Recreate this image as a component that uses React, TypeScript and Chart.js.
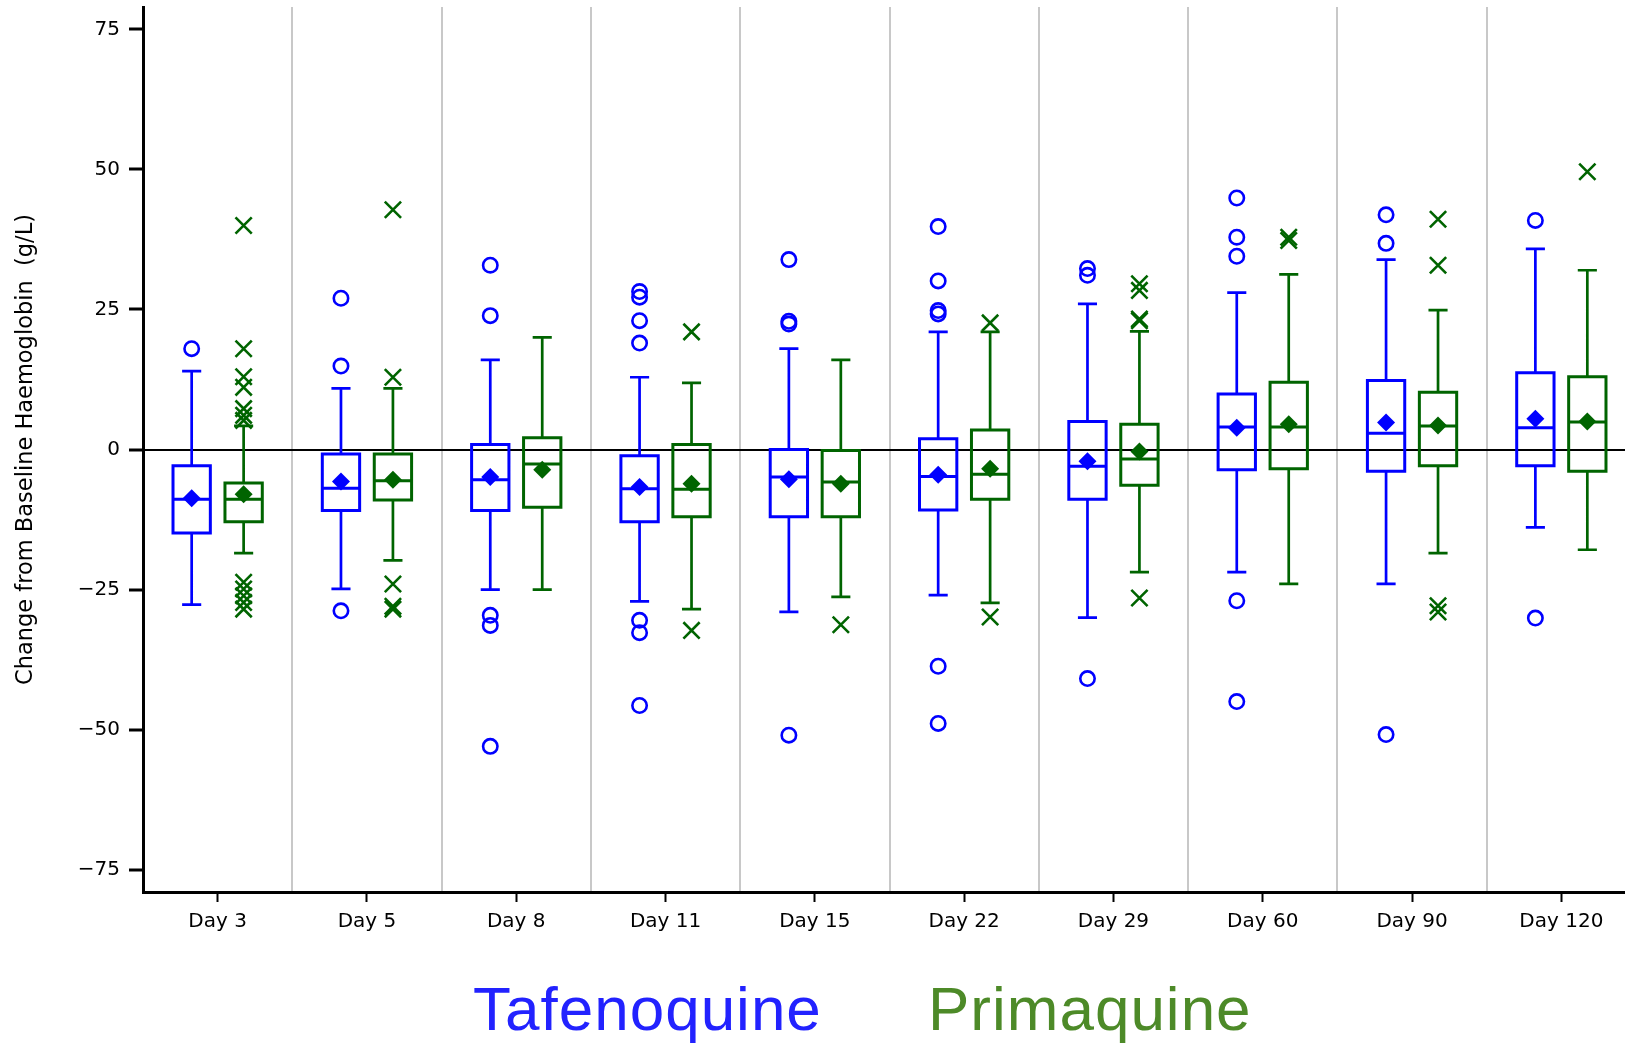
import React, { useEffect, useRef } from "react";
import { Chart, registerables } from "chart.js";

Chart.register(...registerables);

// ---------- data ----------
const days = ["Day 3", "Day 5", "Day 8", "Day 11", "Day 15", "Day 22", "Day 29", "Day 60", "Day 90", "Day 120"];

const tafLow = [-27.7, -24.9, -25, -27.1, -29, -26, -30, -21.9, -24, -13.9];
const tafQ1 = [-14.9, -10.9, -10.9, -12.9, -12, -10.8, -8.9, -3.6, -3.9, -2.9];
const tafMedian = [-8.9, -6.9, -5.4, -7.0, -4.9, -4.8, -3.0, 4.0, 2.9, 3.9];
const tafQ3 = [-2.9, -0.8, 0.9, -1.1, 0, 1.9, 5.0, 9.9, 12.3, 13.7];
const tafHigh = [14, 10.9, 16, 12.9, 18, 21, 26, 28, 33.9, 35.8];
const tafMean = [-8.7, -5.7, -4.9, -6.7, -5.3, -4.5, -2.1, 3.9, 4.8, 5.5];
const tafOutliers = [
  [18],
  [27, 14.9, -28.8],
  [32.9, 23.9, -29.6, -31.4, -53],
  [28.2, 27.2, 23, 19, -30.5, -32.7, -45.7],
  [33.9, 22.9, 22.4, -51],
  [39.8, 30.1, 24.8, 24.2, -38.7, -48.9],
  [32.3, 31.1, -40.9],
  [44.9, 37.9, 34.5, -27, -45],
  [41.9, 36.8, -50.9],
  [40.9, -30.1],
];

const priLow = [-18.5, -19.8, -25, -28.5, -26.3, -27.4, -21.9, -24, -18.5, -17.9];
const priQ1 = [-12.9, -9.0, -10.3, -12.0, -12.0, -8.9, -6.4, -3.45, -2.9, -3.9];
const priMedian = [-8.9, -5.6, -2.6, -7.1, -5.8, -4.4, -1.7, 4.0, 4.2, 4.9];
const priQ3 = [-6.0, -0.8, 2.1, 0.9, -0.2, 3.5, 4.5, 12.0, 10.2, 13.0];
const priHigh = [4.2, 10.9, 20, 11.9, 16, 21, 21.1, 31.25, 24.9, 32];
const priMean = [-8.0, -5.4, -3.6, -6.1, -6.1, -3.45, -0.35, 4.5, 4.3, 5.0];
const priOutliers = [
  [40, 18, 13, 11.1, 7.3, 6.1, 5.2, -23.7, -24.9, -26.1, -27.3, -28.5],
  [42.8, 12.9, -24, -28, -28.5],
  [],
  [21, -32.3],
  [-31.3],
  [22.6, -29.9],
  [29.6, 28.4, 23.3, 23.0, -26.5],
  [37.9, 37.3],
  [41.1, 32.9, -27.9, -29],
  [49.6],
];

const yTickValues = [-75, -50, -25, 0, 25, 50, 75];
const seriesNames = ["Tafenoquine", "Primaquine"];

// ---------- styles ----------
const BLUE = "#0000ff";
const GREEN = "#006400";
const LEGEND_BLUE = "#2222ff";
const LEGEND_GREEN = "#4d8a28";
const OFF = 0.174; // group offset in category units
const CAP = 0.064; // whisker cap half width
const BOX = 0.125; // box half width (stroke centre)

type P = { x: number; y: number | null };

function boxPoints(off: number, q1: number[], q3: number[]): P[] {
  const pts: P[] = [];
  q1.forEach((_, i) => {
    const x = i + off;
    pts.push(
      { x: x - BOX, y: q1[i] }, { x: x + BOX, y: q1[i] }, { x: x + BOX, y: q3[i] },
      { x: x - BOX, y: q3[i] }, { x: x - BOX, y: q1[i] }, { x, y: null }
    );
  });
  return pts;
}

function whiskerPoints(off: number, low: number[], q1: number[], q3: number[], high: number[]): P[] {
  const pts: P[] = [];
  low.forEach((_, i) => {
    const x = i + off;
    pts.push(
      { x, y: q3[i] }, { x, y: high[i] }, { x, y: null },
      { x: x - CAP, y: high[i] }, { x: x + CAP, y: high[i] }, { x, y: null },
      { x, y: q1[i] }, { x, y: low[i] }, { x, y: null },
      { x: x - CAP, y: low[i] }, { x: x + CAP, y: low[i] }, { x, y: null }
    );
  });
  return pts;
}

function medianPoints(off: number, med: number[]): P[] {
  const pts: P[] = [];
  med.forEach((m, i) => {
    const x = i + off;
    pts.push({ x: x - BOX, y: m }, { x: x + BOX, y: m }, { x, y: null });
  });
  return pts;
}

function meanPoints(off: number, mean: number[]): P[] {
  return mean.map((m, i) => ({ x: i + off, y: m }));
}

function outlierPoints(off: number, outs: number[][]): P[] {
  const pts: P[] = [];
  outs.forEach((arr, i) => arr.forEach((v) => pts.push({ x: i + off, y: v })));
  return pts;
}

const legendTextPlugin = {
  id: "legendText",
  afterDraw(chart: any) {
    const ctx = chart.ctx;
    ctx.save();
    ctx.font = '62px "Liberation Sans", Arial, sans-serif';
    try { (ctx as any).letterSpacing = "1px"; } catch (e) { /* ignore */ }
    ctx.textBaseline = "alphabetic";
    ctx.textAlign = "left";
    ctx.fillStyle = LEGEND_BLUE;
    ctx.fillText(seriesNames[0], 473, 1030);
    ctx.fillStyle = LEGEND_GREEN;
    ctx.fillText(seriesNames[1], 928, 1030);
    ctx.restore();
  },
};

export default function App() {
  const ref = useRef<HTMLCanvasElement | null>(null);

  useEffect(() => {
    if (!ref.current) return;
    const lineBase = { type: "line" as const, xAxisID: "xs", yAxisID: "y", pointRadius: 0, fill: false, tension: 0, spanGaps: false, borderCapStyle: "butt", borderJoinStyle: "miter" };
    const chart = new Chart(ref.current, {
      type: "line",
      data: {
        labels: days,
        datasets: [
          { ...lineBase, label: "meanT", data: meanPoints(-OFF, tafMean), showLine: false, pointStyle: "rectRot", pointRadius: 9, pointBackgroundColor: BLUE, pointBorderWidth: 0, borderColor: BLUE } as any,
          { ...lineBase, label: "meanP", data: meanPoints(OFF, priMean), showLine: false, pointStyle: "rectRot", pointRadius: 9, pointBackgroundColor: GREEN, pointBorderWidth: 0, borderColor: GREEN } as any,
          { ...lineBase, label: "outT", data: outlierPoints(-OFF, tafOutliers), showLine: false, pointStyle: "circle", pointRadius: 7.2, pointBackgroundColor: "rgba(0,0,0,0)", pointBorderColor: BLUE, pointBorderWidth: 2.6, borderColor: BLUE } as any,
          { ...lineBase, label: "outP", data: outlierPoints(OFF, priOutliers), showLine: false, pointStyle: "crossRot", pointRadius: 11.5, pointBackgroundColor: GREEN, pointBorderColor: GREEN, pointBorderWidth: 2.6, borderColor: GREEN } as any,
          { ...lineBase, label: "medT", data: medianPoints(-OFF, tafMedian), borderColor: BLUE, borderWidth: 3 } as any,
          { ...lineBase, label: "medP", data: medianPoints(OFF, priMedian), borderColor: GREEN, borderWidth: 3 } as any,
          { ...lineBase, label: "whiskT", data: whiskerPoints(-OFF, tafLow, tafQ1, tafQ3, tafHigh), borderColor: BLUE, borderWidth: 2.7 } as any,
          { ...lineBase, label: "whiskP", data: whiskerPoints(OFF, priLow, priQ1, priQ3, priHigh), borderColor: GREEN, borderWidth: 2.7 } as any,
          { ...lineBase, label: seriesNames[0], data: boxPoints(-OFF, tafQ1, tafQ3), borderColor: BLUE, borderWidth: 3, borderCapStyle: "square" } as any,
          { ...lineBase, label: seriesNames[1], data: boxPoints(OFF, priQ1, priQ3), borderColor: GREEN, borderWidth: 3, borderCapStyle: "square" } as any,
        ],
      },
      options: {
        animation: false,
        responsive: false,
        devicePixelRatio: 1,
        events: [],
        layout: { autoPadding: false, padding: { top: 7, right: 4, left: 0, bottom: 0 } },
        plugins: { legend: { display: false }, tooltip: { enabled: false }, title: { display: false } },
        scales: {
          x: {
            type: "category",
            position: "bottom",
            offset: true,
            grid: { display: true, drawOnChartArea: false, offset: false, drawTicks: true, tickLength: 10, tickWidth: 2, tickColor: "#000", color: "#000" },
            border: { display: true, color: "#000", width: 3 },
            ticks: { color: "#000", font: { family: '"DejaVu Sans"', size: 20 }, padding: 8, maxRotation: 0, autoSkip: false },
            afterFit: (s: any) => { s.height = 153; s.paddingLeft = 0; s.paddingRight = 0; },
          },
          xs: {
            type: "linear",
            axis: "x",
            position: "top",
            min: -0.5,
            max: 9.5,
            offset: false,
            grid: { display: true, drawOnChartArea: true, offset: false, drawTicks: false, color: "#c8c8c8", lineWidth: 2 },
            border: { display: false },
            ticks: { display: false },
            afterBuildTicks: (s: any) => { s.ticks = days.slice(1).map((_, i) => ({ value: i + 0.5 })); },
            afterFit: (s: any) => { s.height = 0; s.paddingLeft = 0; s.paddingRight = 0; },
          },
          y: {
            type: "linear",
            position: "left",
            min: -79,
            max: 79,
            beginAtZero: false,
            grid: {
              display: true,
              drawOnChartArea: true,
              drawTicks: true,
              tickLength: 14,
              tickWidth: 3,
              tickColor: "#000",
              lineWidth: 2,
              color: (c: any) => (c.tick && c.tick.value === 0 ? "#000" : "rgba(0,0,0,0)"),
            },
            border: { display: true, color: "#000", width: 3 },
            ticks: {
              color: "#000",
              font: { family: '"DejaVu Sans"', size: 20 },
              padding: 9,
              callback: (v: any) => (Number(v) < 0 ? "\u2212" + Math.abs(Number(v)) : String(v)),
            },
            afterBuildTicks: (s: any) => { s.ticks = yTickValues.map((value) => ({ value })); },
            afterFit: (s: any) => { s.width = 143; s.paddingTop = 0; s.paddingBottom = 0; },
            title: {
              display: true,
              text: "Change from Baseline Haemoglobin  (g/L)",
              color: "#000",
              font: { family: '"DejaVu Sans"', size: 22.5 },
              padding: { top: 13, bottom: 0 },
            },
          },
        },
      } as any,
      plugins: [legendTextPlugin],
    });
    return () => chart.destroy();
  }, []);

  return (
    <div style={{ position: "fixed", left: 0, top: 0, width: 1625, height: 1045, overflow: "hidden", background: "#fff" }}>
      <canvas ref={ref} width={1640} height={1045} style={{ display: "block" }} />
    </div>
  );
}
